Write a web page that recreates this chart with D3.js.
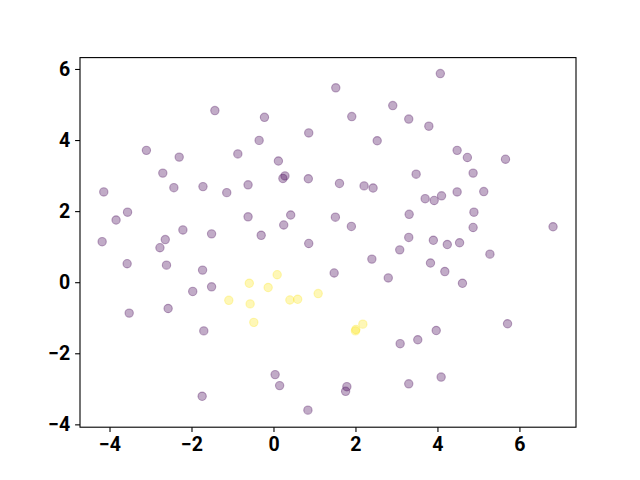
<!DOCTYPE html>
<html>
<head>
<meta charset="utf-8">
<script src="https://cdn.jsdelivr.net/npm/d3@7"></script>
<style>
  body { margin: 0; background: #fff; }
  .axis text { font-family: Roboto, "DejaVu Sans", sans-serif; font-weight: bold; font-size: 19.5px; fill: #000; }
  .axis path, .axis line { stroke: #000; stroke-width: 1.1; }
</style>
</head>
<body>
<svg id="chart"></svg>
<script>
// class 0 points (purple)
let purpleX = [-1.43, -3.10, -2.30, -0.87, -2.70, 1.52, -0.22, 2.91, 1.91, 3.30,
  0.86, -0.35, 2.53, 0.12, 0.23, 0.28, 0.85, 3.48, 4.07, 3.79,
  4.48, 4.73, 5.66, 4.87, -4.14, -2.43, -1.72, -1.14, -0.62, -3.56,
  -3.84, -0.62, -2.21, -1.51, -4.18, -2.64, -2.77, -3.57, -2.61, -1.73,
  -1.97, -1.51, 1.61, 2.21, 2.43, 0.42, 0.25, 1.51, 1.90, 3.31,
  -0.30, 0.86, 3.30, 3.08, 2.40, 1.48, 2.80, 3.70, 3.92, 4.10,
  4.48, 5.13, 4.89, 4.87, 6.82, 3.90, 4.24, 4.54, 5.28, 3.83,
  4.18, 4.61, -3.52, -2.57, -1.70, -1.74, 3.09, 3.52, 0.04, 0.15,
  1.79, 1.76, 3.30, 0.84, 3.97, 5.71, 4.09];
let purpleY = [4.83, 3.71, 3.52, 3.61, 3.07, 5.47, 4.64, 4.97, 4.66, 4.59,
  4.20, 3.99, 3.98, 3.41, 2.92, 2.99, 2.91, 3.04, 5.87, 4.39,
  3.71, 3.51, 3.46, 3.07, 2.54, 2.66, 2.69, 2.52, 2.74, 1.97,
  1.75, 1.84, 1.47, 1.36, 1.14, 1.20, 0.97, 0.52, 0.48, 0.34,
  -0.26, -0.13, 2.78, 2.71, 2.65, 1.89, 1.61, 1.83, 1.57, 1.91,
  1.32, 1.09, 1.26, 0.91, 0.65, 0.26, 0.12, 2.35, 2.30, 2.43,
  2.54, 2.55, 1.97, 1.54, 1.56, 1.18, 1.06, 1.11, 0.79, 0.54,
  0.30, -0.03, -0.87, -0.74, -1.37, -3.21, -1.73, -1.62, -2.60, -2.91,
  -2.94, -3.07, -2.86, -3.60, -1.36, -1.17, -2.67];

// class 1 points (yellow)
let yellowX = [-0.59, 0.09, -0.13, 1.09, 0.40, 0.59, -1.09, -0.57, -0.48, 2.18, 2.00, 2.01];
let yellowY = [-0.03, 0.21, -0.15, -0.32, -0.50, -0.48, -0.51, -0.61, -1.13, -1.18, -1.37, -1.33];

let xTicks = [-4, -2, 0, 2, 4, 6];
let yTicks = [-4, -2, 0, 2, 4, 6];

let w = 640, h = 480;
let padLeft = 80, padRight = 576, padTop = 57.6, padBottom = 427.2;

let chart = d3.select('#chart')
  .attr('width', w)
  .attr('height', h);

let xScale = d3.scaleLinear()
  .domain([-4.72, 7.38])
  .range([padLeft, padRight]);

let yScale = d3.scaleLinear()
  .domain([-4.08, 6.32])
  .range([padBottom, padTop]);

function drawPoints(xs, ys, color) {
  chart.append('g')
    .selectAll('circle')
    .data(xs.map((x, i) => [x, ys[i]]))
    .enter()
    .append('circle')
    .attr('cx', (d) => xScale(d[0]))
    .attr('cy', (d) => yScale(d[1]))
    .attr('r', 4.17)
    .attr('fill', color)
    .attr('fill-opacity', 0.33)
    .attr('stroke', color)
    .attr('stroke-opacity', 0.33)
    .attr('stroke-width', 1.1);
}

drawPoints(purpleX, purpleY, '#440154');
drawPoints(yellowX, yellowY, '#fde725');

let minusFmt = (d) => String(d).replace('-', '\u2212');

// AXES
chart.append('g')
  .attr('class', 'axis')
  .attr('transform', `translate(0, ${padBottom})`)
  .call(d3.axisBottom(xScale).tickValues(xTicks).tickSize(4.9).tickPadding(4.9).tickFormat(minusFmt))
  .call((g) => g.select('.domain').remove());

chart.append('g')
  .attr('class', 'axis')
  .attr('transform', `translate(${padLeft}, 0)`)
  .call(d3.axisLeft(yScale).tickValues(yTicks).tickSize(4.9).tickPadding(4.9).tickFormat(minusFmt))
  .call((g) => g.select('.domain').remove());

// frame
chart.append('rect')
  .attr('x', padLeft)
  .attr('y', padTop)
  .attr('width', padRight - padLeft)
  .attr('height', padBottom - padTop)
  .attr('fill', 'none')
  .attr('stroke', '#000')
  .attr('stroke-width', 1.1);
</script>
</body>
</html>
